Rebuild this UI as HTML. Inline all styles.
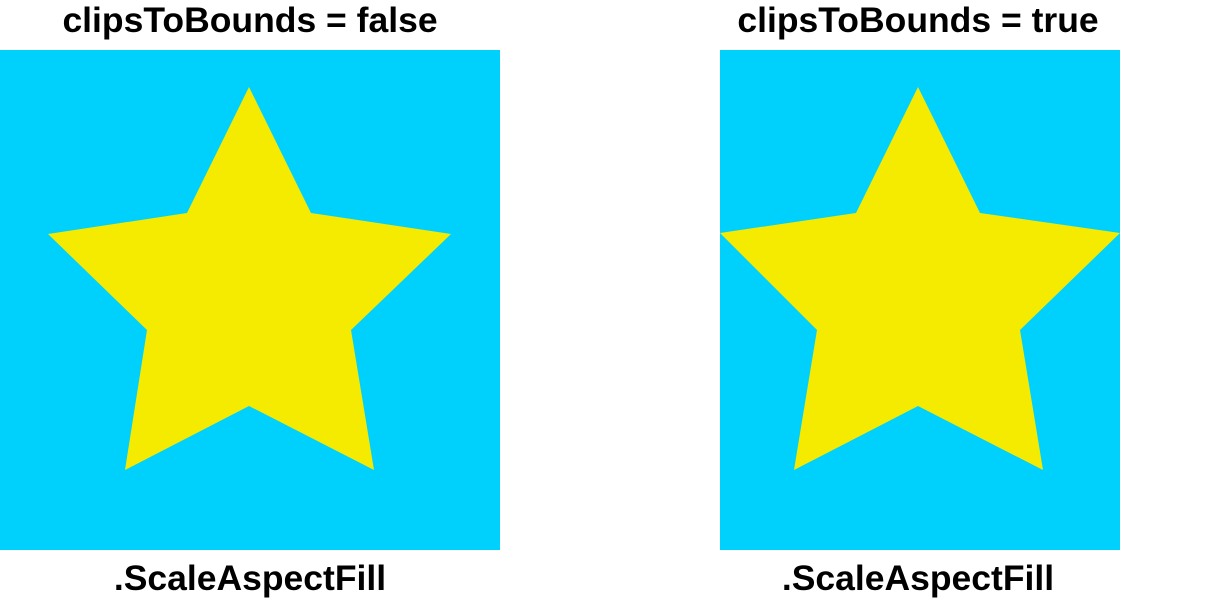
<!DOCTYPE html>
<html><head><meta charset="utf-8"><style>
body{margin:0;width:1220px;height:600px;background:#fff;overflow:hidden;position:relative;font-family:"Liberation Sans",Arial,sans-serif}
.t{position:absolute;font-weight:bold;font-size:35.5px;text-align:center;color:#000;width:500px}
</style></head><body>
<div class="t" style="left:0;top:0px">clipsToBounds = false</div>
<div class="t" style="left:668px;top:0px">clipsToBounds = true</div>
<svg width="1220" height="600" style="position:absolute;left:0;top:0;z-index:-1">
<rect x="0" y="50" width="500" height="500" fill="#00D1FC"/>
<polygon fill="#F5EB00" points="249,87 311,213 451,234 351,330 374,470 249,406 125,470 147,330 48,234 187,213"/>
<rect x="720" y="50" width="400" height="500" fill="#00D1FC"/>
<polygon fill="#F5EB00" points="918,87 980,213 1120,233 1020,330 1043,470 918,406 794,470 817,330 720,233 856,213"/>
</svg>
<div class="t" style="left:0;top:558px">.ScaleAspectFill</div>
<div class="t" style="left:668px;top:558px">.ScaleAspectFill</div>
</body></html>
